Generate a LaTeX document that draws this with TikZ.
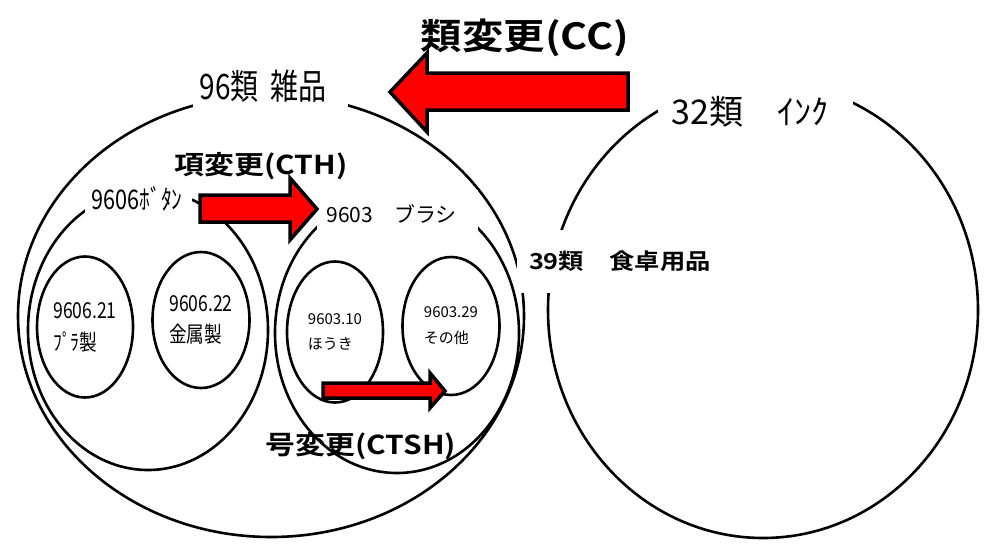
\documentclass[tikz,border=0pt]{standalone}
\usepackage{fontspec}
\setmainfont{Noto Sans CJK JP}
\newfontfamily\narrowjp{Noto Sans CJK JP}[FakeStretch=0.8]
\newfontfamily\headjp{Noto Sans CJK JP Bold}[FakeStretch=1.15]
\usetikzlibrary{shapes.geometric}
\def\fsz#1#2{\fontsize{#1}{#2}\selectfont}

\tikzset{
	ring/.style={ellipse, draw, line width=2.6pt, inner sep=0pt},
	gapbox/.style={fill=white, inner ysep=0pt, align=left},
	redarrow/.style={fill=red, draw=black, line width=3.5pt, line join=miter},
	headtext/.style={font=\headjp\fsz{#1}{#1}, inner sep=0pt}
}

\begin{document}
\begin{tikzpicture}[x=1pt, y=-1pt]
			%%%%% START %%%%%
			\useasboundingbox (0,0) rectangle (988,555);
			
			\node[ring, minimum width=506pt, minimum height=442pt] (c96) at (271,316) {};
			\node[ring, minimum width=430pt, minimum height=456pt] (c32) at (763,310) {};
			\node[ring, minimum width=240pt, minimum height=280pt] (c9606) at (148,330) {};
			\node[ring, minimum width=244pt, minimum height=280pt] (c9603) at (397,333) {};
			
			\node[ring, minimum width=96pt, minimum height=141pt, align=left, font=\narrowjp\fsz{22}{32}] (e960621) at (85,327) {9606.21\\ﾌﾟﾗ製};
			\node[ring, minimum width=97pt, minimum height=136pt, align=left, font=\narrowjp\fsz{22}{31}] (e960622) at (201,320) {9606.22\\金属製};
			\node[ring, minimum width=96pt, minimum height=141pt, align=left, font=\fsz{15}{25}] (e960310) at (335,332) {9603.10\\ほうき};
			\node[ring, minimum width=97pt, minimum height=138pt, align=left, font=\fsz{15}{26}] (e960329) at (451,326) {9603.29\\その他};
			
			\node[gapbox, font=\narrowjp\fsz{35}{40}, inner xsep=7pt, text width=141pt, minimum height=48pt] (l96) at (270,86) {96類 雑品};
			\node[gapbox, font=\fsz{34}{38}, inner xsep=14pt, text width=167pt, text height=45pt, text depth=5pt] (l32) at (755,104) {32類　ｲﾝｸ};
			\node[gapbox, font=\narrowjp\fsz{27}{30}, inner xsep=7pt, text width=93pt, minimum height=34pt] (l9606) at (138,199) {9606ﾎﾞﾀﾝ};
			\node[gapbox, font=\fsz{21}{24}, inner xsep=10pt, text width=141pt, minimum height=48pt] (l9603) at (397,214) {9603　ブラシ};
			\node[gapbox, font=\headjp\fsz{22}{26}, inner xsep=12pt, text width=180pt, minimum height=63pt] (l39) at (619,261) {39類　食卓用品};
			
			\draw[redarrow] (628,73) -- (427,73) -- (427,53) -- (390,92) -- (427,132) -- (427,110) -- (628,110) -- cycle;
			\draw[redarrow] (200,195) -- (290,195) -- (290,178) -- (317,209) -- (290,240) -- (290,222) -- (200,222) -- cycle;
			\draw[redarrow] (323,383) -- (430,383) -- (430,373) -- (445,391) -- (430,408) -- (430,398) -- (323,398) -- cycle;
			
			\node[headtext=36] (tcc) at (525,38) {類変更(CC)};
			\node[headtext=26] (tcth) at (261,166) {項変更(CTH)};
			\node[headtext=26] (tctsh) at (361,446) {号変更(CTSH)};
			
			%%%%% END %%%%%
\end{tikzpicture}
\end{document}
